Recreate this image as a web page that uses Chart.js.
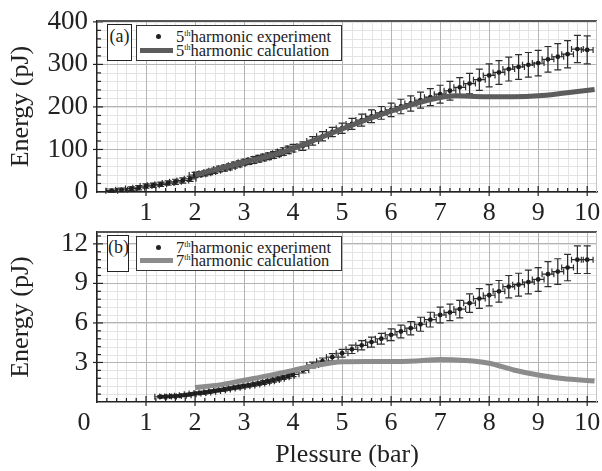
<!DOCTYPE html>
<html>
<head>
<meta charset="utf-8">
<script src="https://cdn.jsdelivr.net/npm/chart.js@4/dist/chart.umd.min.js"></script>
<style>
  body{margin:0;background:#fff;}
  .wrap{position:relative;width:602px;height:471px;overflow:hidden;font-family:"Liberation Serif","DejaVu Serif",serif;color:#222;}
  .wrap canvas{position:absolute;left:0;}
  .tag{position:absolute;border:1.5px solid #222;background:#fff;font-size:18px;line-height:18px;text-align:center;box-sizing:border-box;padding-top:2px;}
  .leg{position:absolute;border:1.5px solid #333;background:#fff;box-sizing:border-box;font-size:16.5px;}
  .leg .row{position:absolute;left:39px;line-height:14px;white-space:nowrap;}
  .leg sup{font-size:8px;vertical-align:6px;line-height:0;}
  .leg .dot{position:absolute;width:5px;height:5px;border-radius:3px;background:#222;}
  .leg .bar{position:absolute;height:5px;}
</style>
</head>
<body>
<div class="wrap">
  <canvas id="cA" width="602" height="225" style="top:0"></canvas>
  <canvas id="cB" width="602" height="246" style="top:225px"></canvas>

  <div class="tag" style="left:107px;top:24px;width:25px;height:37px">(a)</div>
  <div class="leg" style="left:136px;top:25px;width:206px;height:36px">
    <div class="dot" style="left:19px;top:8px"></div>
    <div class="bar" style="left:3px;top:22px;width:33px;background:#5c5c5c"></div>
    <div class="row" style="top:4px">5<sup>th</sup>harmonic experiment</div>
    <div class="row" style="top:18px">5<sup>th</sup>harmonic calculation</div>
  </div>

  <div class="tag" style="left:107px;top:235px;width:22px;height:37px">(b)</div>
  <div class="leg" style="left:136px;top:236px;width:206px;height:35px">
    <div class="dot" style="left:19px;top:8px"></div>
    <div class="bar" style="left:3px;top:21px;width:33px;background:#8c8c8c"></div>
    <div class="row" style="top:4px">7<sup>th</sup>harmonic experiment</div>
    <div class="row" style="top:17px">7<sup>th</sup>harmonic calculation</div>
  </div>
</div>

<script>
// ---------- (a) 5th harmonic ----------
var xA = [0.3,0.5,0.7,0.85,1.0,1.15,1.3,1.45,1.6,1.75,1.9,
  2.0,2.1,2.2,2.3,2.4,2.5,2.6,2.7,2.8,2.9,3.0,3.1,3.2,3.3,3.4,3.5,3.6,3.7,3.8,3.9,4.0,
  4.2,4.4,4.6,4.8,5.0,5.2,5.4,5.6,5.8,6.0,6.2,6.4,6.6,6.8,7.0,7.2,7.4,7.6,7.8,8.0,
  8.2,8.4,8.6,8.8,9.0,9.2,9.4,9.6,9.8,10.0];
var yA = [3,5,8,10,14,16,18,21,24,27,31,
  40,42,44,47,50,54,56,59,63,66,70,72,75,78,81,84,87,91,95,99,103,
  108,120,131,141,150,160,169,178,186,193,201,208,216,223,230,238,246,255,264,274,
  281,289,294,299,303,312,318,324,336,334];
var errA = [4,4,4,5,5,5,5,5,6,6,6,
  6,6,6,6,6,7,7,7,7,7,7,7,8,8,8,8,8,8,9,9,9,
  10,10,11,11,12,13,14,15,15,16,17,18,19,20,21,22,23,24,25,27,
  28,28,29,29,30,30,31,32,32,33];
var calcXA = [2.0,2.5,3.0,3.5,4.0,4.5,5.0,5.5,6.0,6.5,7.0,7.3,7.6,8.0,8.5,9.0,9.5,10.15];
var calcYA = [40,55,70,84,102,125,148,170,190,208,222,226,225,224,224,226,232,241];
var yTicksA = [0,100,200,300,400];

// ---------- (b) 7th harmonic ----------
var xB = [1.3,1.4,1.5,1.6,1.7,1.8,1.9,2.0,2.1,2.2,2.3,2.4,2.5,2.6,2.7,2.8,2.9,3.0,
  3.1,3.2,3.3,3.4,3.5,3.6,3.7,3.8,3.9,4.0,
  4.2,4.4,4.6,4.8,5.0,5.2,5.4,5.6,5.8,6.0,6.2,6.4,6.6,6.8,7.0,7.2,7.4,7.6,7.8,8.0,
  8.2,8.4,8.6,8.8,9.0,9.2,9.4,9.6,9.8,10.0];
var yB = [0.40,0.41,0.42,0.45,0.48,0.52,0.58,0.64,0.68,0.72,0.78,0.84,0.90,0.95,1.02,1.08,1.14,1.20,
  1.26,1.33,1.40,1.48,1.57,1.66,1.76,1.87,1.98,2.10,
  2.4,2.8,3.1,3.4,3.7,4.0,4.3,4.55,4.8,5.1,5.35,5.6,5.9,6.25,6.6,6.8,7.05,7.5,7.85,8.1,
  8.4,8.75,8.9,9.1,9.3,9.7,9.9,10.2,10.8,10.8];
var errB = [0.08,0.08,0.08,0.08,0.08,0.09,0.09,0.09,0.09,0.10,0.10,0.10,0.10,0.11,0.11,0.11,0.12,0.12,
  0.12,0.13,0.13,0.14,0.14,0.15,0.15,0.16,0.17,0.18,
  0.20,0.22,0.24,0.27,0.30,0.32,0.35,0.38,0.41,0.45,0.48,0.50,0.53,0.56,0.60,0.63,0.66,0.70,0.75,0.80,
  0.82,0.85,0.87,0.90,0.90,0.95,0.97,1.00,1.05,1.05];
var calcXB = [2.0,2.5,3.0,3.5,4.0,4.5,5.0,5.5,6.0,6.5,7.0,7.5,8.0,8.5,9.0,9.5,10.15];
var calcYB = [1.1,1.3,1.65,2.0,2.4,2.8,3.05,3.08,3.08,3.12,3.22,3.15,2.94,2.43,2.05,1.78,1.6];
var yTicksB = [3,6,9,12];

var xTicks = [1,2,3,4,5,6,7,8,9,10];
var xErr = 0.12; // horizontal error, bar

var FONT = "'Liberation Serif','Times New Roman',serif";

function pairs(xs, ys){
  return xs.map(function(x, i){ return {x: x, y: ys[i]}; });
}

// scale boxes keep a fixed size, no extra room for half labels
function noPad(s){
  s.paddingTop = 0; s.paddingBottom = 0; s.paddingLeft = 0; s.paddingRight = 0;
}

// minor grid + frame + inner tick marks, all placed through the chart scales
var framePlugin = {
  id: "frame",
  beforeDraw: function(chart, args, o){
    var ctx = chart.ctx, a = chart.chartArea, xs = chart.scales.x, ys = chart.scales.y, i, p;
    ctx.save();
    ctx.strokeStyle = "#e3e3e3";
    ctx.lineWidth = 1;
    for (i = 1; i * o.xMinor < xs.max; i++) {
      p = Math.round(xs.getPixelForValue(i * o.xMinor)) + 0.5;
      ctx.beginPath(); ctx.moveTo(p, a.top); ctx.lineTo(p, a.bottom); ctx.stroke();
    }
    for (i = 1; i * o.yMinor < ys.max; i++) {
      p = Math.round(ys.getPixelForValue(i * o.yMinor)) + 0.5;
      ctx.beginPath(); ctx.moveTo(a.left, p); ctx.lineTo(a.right, p); ctx.stroke();
    }
    ctx.restore();
  },
  afterDraw: function(chart, args, o){
    var ctx = chart.ctx, a = chart.chartArea, xs = chart.scales.x, ys = chart.scales.y, i, p, major;
    ctx.save();
    ctx.strokeStyle = "#222";
    ctx.lineWidth = 1.2;
    for (i = 1; i * o.xMinor < xs.max; i++) {
      p = xs.getPixelForValue(i * o.xMinor);
      major = Math.abs(i * o.xMinor - Math.round(i * o.xMinor)) < 1e-6;
      ctx.beginPath(); ctx.moveTo(p, a.bottom + (major ? 4 : 0)); ctx.lineTo(p, a.bottom - (major ? 6 : 4)); ctx.stroke();
    }
    for (i = 1; i * o.yMinor < ys.max; i++) {
      p = ys.getPixelForValue(i * o.yMinor);
      major = (i % o.yPer) === 0;
      ctx.beginPath(); ctx.moveTo(a.left - (major ? 4 : 0), p); ctx.lineTo(a.left + (major ? 6 : 4), p); ctx.stroke();
    }
    // top and right frame
    ctx.strokeStyle = "#555";
    ctx.lineWidth = 2;
    ctx.beginPath(); ctx.moveTo(a.left, a.top); ctx.lineTo(a.right, a.top); ctx.stroke();
    ctx.strokeStyle = "#c4c4c4";
    ctx.lineWidth = 1;
    ctx.beginPath(); ctx.moveTo(a.right - 0.5, a.top); ctx.lineTo(a.right - 0.5, a.bottom); ctx.stroke();
    ctx.restore();
  }
};

// error bars (vertical and horizontal with caps) drawn just before the experiment points
var errorBarPlugin = {
  id: "errbars",
  beforeDatasetDraw: function(chart, args){
    var ds = chart.data.datasets[args.index];
    if (!ds.errY) return;
    var ctx = chart.ctx, xs = chart.scales.x, ys = chart.scales.y;
    ctx.save();
    ctx.strokeStyle = "#2e2e2e";
    ctx.lineWidth = 1.2;
    ds.data.forEach(function(d, i){
      var px = xs.getPixelForValue(d.x), py = ys.getPixelForValue(d.y);
      var y1 = ys.getPixelForValue(d.y + ds.errY[i]), y2 = ys.getPixelForValue(d.y - ds.errY[i]);
      var x1 = xs.getPixelForValue(d.x - ds.errX), x2 = xs.getPixelForValue(d.x + ds.errX);
      ctx.beginPath();
      ctx.moveTo(px, y1); ctx.lineTo(px, y2);
      ctx.moveTo(px - 3.5, y1); ctx.lineTo(px + 3.5, y1);
      ctx.moveTo(px - 3.5, y2); ctx.lineTo(px + 3.5, y2);
      ctx.moveTo(x1, py); ctx.lineTo(x2, py);
      ctx.moveTo(x1, py - 3); ctx.lineTo(x1, py + 3);
      ctx.moveTo(x2, py - 3); ctx.lineTo(x2, py + 3);
      ctx.stroke();
    });
    ctx.restore();
  }
};

function makeChart(id, cfg){
  return new Chart(document.getElementById(id), {
    type: "scatter",
    data: {
      datasets: [{
        data: pairs(cfg.calcX, cfg.calcY),
        showLine: true,
        borderColor: cfg.calcColor,
        borderWidth: 5,
        pointRadius: 0,
        cubicInterpolationMode: "monotone"
      }, {
        data: pairs(cfg.x, cfg.y),
        errY: cfg.err,
        errX: xErr,
        pointRadius: 2.4,
        pointBackgroundColor: "#1e1e1e",
        pointBorderWidth: 0
      }]
    },
    options: {
      responsive: false,
      animation: false,
      events: [],
      layout: {padding: {top: cfg.padTop, right: 5, left: 0, bottom: 0}},
      plugins: {
        legend: {display: false},
        tooltip: {enabled: false},
        frame: {xMinor: 0.2, yMinor: cfg.yMinor, yPer: 5}
      },
      scales: {
        x: {
          type: "linear", min: 0, max: 10.2,
          afterFit: function(s){ s.height = cfg.xHeight; noPad(s); },
          afterBuildTicks: function(s){ s.ticks = cfg.xTickVals.map(function(v){ return {value: v}; }); },
          grid: {color: "#b4b4b4", lineWidth: 1, drawTicks: false},
          border: {display: true, color: "#222", width: 1.5},
          ticks: {color: "#222", padding: 6, font: {family: FONT, size: 26}, maxRotation: 0, autoSkip: false,
                  callback: function(v){ return v === 0 ? "0\u2002\u2002" : v; }},
          title: {display: !!cfg.xTitle, text: cfg.xTitle || "", color: "#222",
                  font: {family: FONT, size: 26}, padding: {top: 0, bottom: 0}}
        },
        y: {
          type: "linear", min: 0, max: cfg.yMax,
          afterFit: function(s){ s.width = 97; noPad(s); },
          afterBuildTicks: function(s){ s.ticks = cfg.yTickVals.map(function(v){ return {value: v}; }); },
          grid: {color: "#b4b4b4", lineWidth: 1, drawTicks: false},
          border: {display: true, color: "#222", width: 1.5},
          ticks: {color: "#222", padding: 9, font: {family: FONT, size: 27}},
          title: {display: true, text: "Energy (pJ)", color: "#222",
                  font: {family: FONT, size: 26}, padding: {top: 6, bottom: 0}}
        }
      }
    },
    plugins: [framePlugin, errorBarPlugin]
  });
}

makeChart("cA", {
  x: xA, y: yA, err: errA, calcX: calcXA, calcY: calcYA, calcColor: "#5c5c5c",
  yMax: 402, yMinor: 20, yTickVals: yTicksA, xTickVals: xTicks,
  padTop: 21, xHeight: 33
});

makeChart("cB", {
  x: xB, y: yB, err: errB, calcX: calcXB, calcY: calcYB, calcColor: "#8c8c8c",
  yMax: 12.9, yMinor: 0.6, yTickVals: yTicksB, xTickVals: [0].concat(xTicks),
  padTop: 7, xHeight: 69, xTitle: "Plessure (bar)"
});
</script>
</body>
</html>
